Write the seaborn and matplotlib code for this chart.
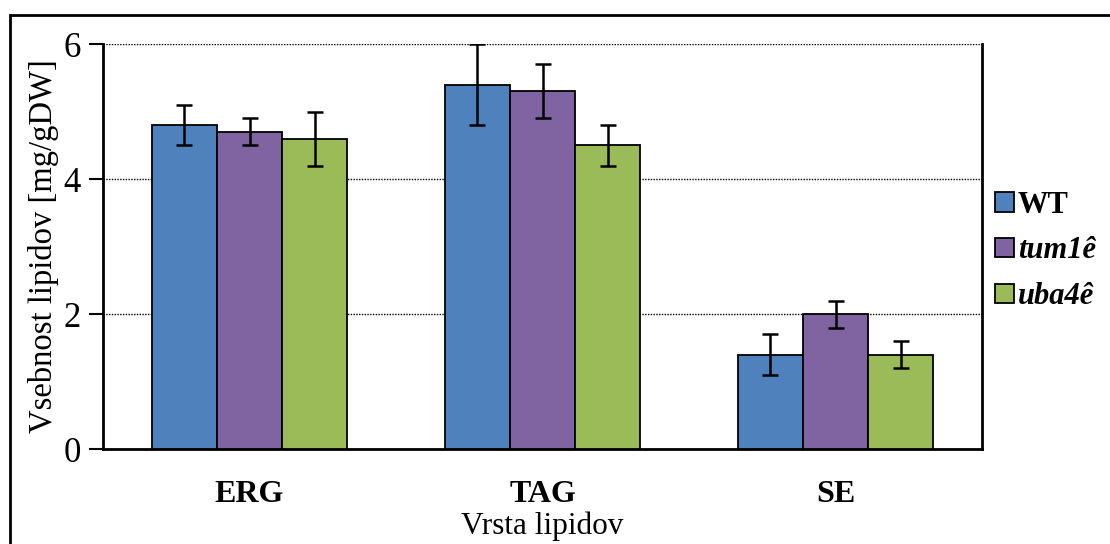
import pandas as pd
import matplotlib
matplotlib.use("Agg")
import matplotlib.pyplot as plt
from matplotlib.patches import Rectangle
import seaborn as sns

# Data
categories = ["ERG", "TAG", "SE"]
strains = ["WT", "tum1ê", "uba4ê"]
wt_values = [4.8, 5.4, 1.4]
tum1_values = [4.7, 5.3, 2.0]
uba4_values = [4.6, 4.5, 1.4]
wt_err = [0.3, 0.6, 0.3]
tum1_err = [0.2, 0.4, 0.2]
uba4_err = [0.4, 0.3, 0.2]

colors = ["#4F81BD", "#8064A2", "#9BBB59"]

rows = []
for strain, vals, errs in zip(strains, [wt_values, tum1_values, uba4_values],
                              [wt_err, tum1_err, uba4_err]):
    for cat, v, e in zip(categories, vals, errs):
        rows.append({"lipid": cat, "strain": strain, "value": v, "err": e})
df = pd.DataFrame(rows)

sns.set_style("white")
plt.rcParams['font.family'] = ['Liberation Serif', 'DejaVu Serif']
plt.rcParams['text.color'] = 'black'
plt.rcParams['axes.labelcolor'] = 'black'
plt.rcParams['xtick.color'] = 'black'
plt.rcParams['ytick.color'] = 'black'

fig = plt.figure(figsize=(11.1, 5.44), dpi=100)
ax = fig.add_axes([0.0928, 0.1746, 0.7919, 0.7445])

sns.barplot(data=df, x="lipid", y="value", hue="strain", order=categories,
            hue_order=strains, palette=colors, width=0.667, errorbar=None,
            edgecolor="black", linewidth=1.3, saturation=1, ax=ax, zorder=3)

# error bars at bar centers
for strain, container in zip(strains, ax.containers):
    sub = df[df["strain"] == strain].set_index("lipid").loc[categories]
    xs = [p.get_x() + p.get_width() / 2 for p in container.patches]
    ax.errorbar(xs, sub["value"], yerr=sub["err"], fmt="none", ecolor="black",
                elinewidth=1.8, capsize=6, capthick=1.8, zorder=4)

ax.set_xlim(-0.5, 2.5)
ax.set_ylim(0, 6)
ax.set_yticks([0, 2, 4, 6])
ax.yaxis.grid(True, linestyle=(0, (1, 1)), color="black", linewidth=1.0, zorder=0)
ax.set_axisbelow(True)
ax.tick_params(axis="y", labelsize=25, length=10, width=1.5, direction="out", left=True, pad=6)
ax.tick_params(axis="x", labelsize=23, length=0, pad=22)
for lab in ax.get_xticklabels():
    lab.set_fontweight("bold")

for side in ["left", "bottom", "right"]:
    ax.spines[side].set_color("black")
    ax.spines[side].set_linewidth(2)
ax.spines["top"].set_visible(False)

ax.set_ylabel("Vsebnost lipidov [mg/gDW]", fontsize=23.5, labelpad=3)
ax.set_xlabel("Vrsta lipidov", fontsize=22.5, labelpad=2)

handles, labels = ax.get_legend_handles_labels()
leg = ax.legend(handles, labels, loc="center left", bbox_to_anchor=(1.015, 0.489),
                frameon=False, fontsize=22, handlelength=0.6, handleheight=0.6,
                handletextpad=0.15, labelspacing=0.55, borderaxespad=0, borderpad=0)
for i, t in enumerate(leg.get_texts()):
    t.set_fontweight("bold")
    if i > 0:
        t.set_fontstyle("italic")

# outer frame
fig.patches.append(Rectangle((10 / 1110, -0.05), 1.2, 1 - 15 / 544 + 0.05,
                             transform=fig.transFigure, fill=False,
                             edgecolor="black", linewidth=2))

fig.savefig("out.png", dpi=100)
